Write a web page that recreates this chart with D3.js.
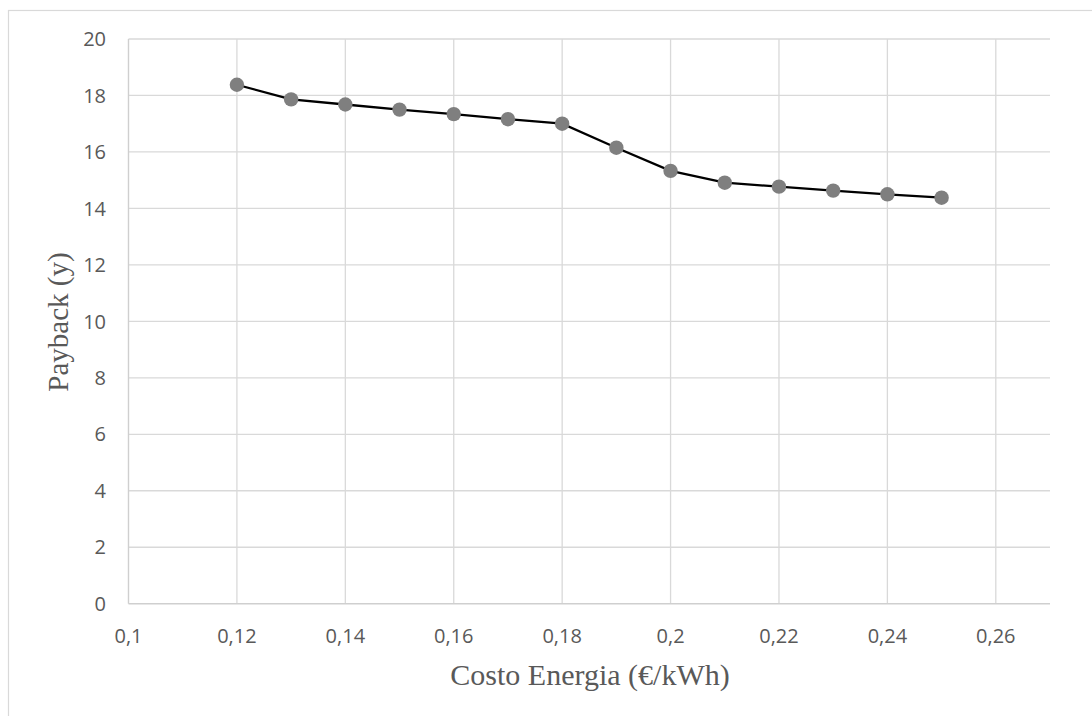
<!DOCTYPE html>
<html><head><meta charset="utf-8">
<script src="https://cdn.jsdelivr.net/npm/d3@7"></script>
<style>body{margin:0;background:#fff;}</style>
</head><body>
<svg id="c" width="1092" height="716"></svg>
<script>
const costs = [0.12,0.13,0.14,0.15,0.16,0.17,0.18,0.19,0.20,0.21,0.22,0.23,0.24,0.25];
const payback = [18.38,17.86,17.68,17.5,17.34,17.16,17.0,16.15,15.33,14.91,14.77,14.63,14.5,14.38];
const xTicks = [0.10,0.12,0.14,0.16,0.18,0.20,0.22,0.24,0.26];
const yTicks = [0,2,4,6,8,10,12,14,16,18,20];
const xTitle = "Costo Energia (€/kWh)";
const yTitle = "Payback (y)";

const svg = d3.select("#c");
svg.append("rect").attr("x",8.5).attr("y",10.5).attr("width",1100).attr("height",720)
  .attr("fill","#fff").attr("stroke","#d9d9d9").attr("stroke-width",1.2);

const L=128.5, R=1050, T=39, B=603.7;
const x = d3.scaleLinear().domain([0.10,0.27]).range([L,R]);
const y = d3.scaleLinear().domain([0,20]).range([B,T]);
const fmt = d => String(+d.toFixed(2)).replace(".",",");

const g = svg.append("g");
g.selectAll(".hg").data(yTicks.filter(d=>d>0)).join("line")
  .attr("x1",L).attr("x2",R).attr("y1",d=>y(d)).attr("y2",d=>y(d))
  .attr("stroke","#d9d9d9").attr("stroke-width",1.3);
g.selectAll(".vg").data(xTicks.filter(d=>d>0.1)).join("line")
  .attr("y1",T).attr("y2",B).attr("x1",d=>x(d)).attr("x2",d=>x(d))
  .attr("stroke","#d9d9d9").attr("stroke-width",1.3);
g.append("line").attr("x1",L).attr("x2",R).attr("y1",B).attr("y2",B).attr("stroke","#cfcfcf").attr("stroke-width",1.4);
g.append("line").attr("x1",L).attr("x2",L).attr("y1",T).attr("y2",B).attr("stroke","#cfcfcf").attr("stroke-width",1.4);

const tf = "'Open Sans','Liberation Sans',sans-serif";
g.selectAll(".yl").data(yTicks).join("text")
  .attr("x",106).attr("y",d=>y(d)).attr("dy","0.36em").attr("text-anchor","end")
  .attr("font-family",tf).attr("font-size",20).attr("fill","#595959").text(d=>d);
g.selectAll(".xl").data(xTicks).join("text")
  .attr("x",d=>x(d)).attr("y",643).attr("text-anchor","middle")
  .attr("font-family",tf).attr("font-size",20).attr("fill","#595959").text(fmt);

const sf = "'Liberation Serif','DejaVu Serif',serif";
svg.append("text").attr("x",590).attr("y",685).attr("text-anchor","middle")
  .attr("font-family",sf).attr("font-size",30).attr("fill","#595959").text(xTitle);
svg.append("text").attr("transform","translate(68,322) rotate(-90)").attr("text-anchor","middle")
  .attr("font-family",sf).attr("font-size",29).attr("fill","#595959").text(yTitle);

const data = costs.map((c,i)=>({c, p:payback[i]}));
g.append("path").datum(data)
  .attr("d", d3.line().x(d=>x(d.c)).y(d=>y(d.p)))
  .attr("fill","none").attr("stroke","#000").attr("stroke-width",2.3);
g.selectAll(".pt").data(data).join("circle")
  .attr("cx",d=>x(d.c)).attr("cy",d=>y(d.p)).attr("r",7.2).attr("fill","#7f7f7f");
</script>
</body></html>
